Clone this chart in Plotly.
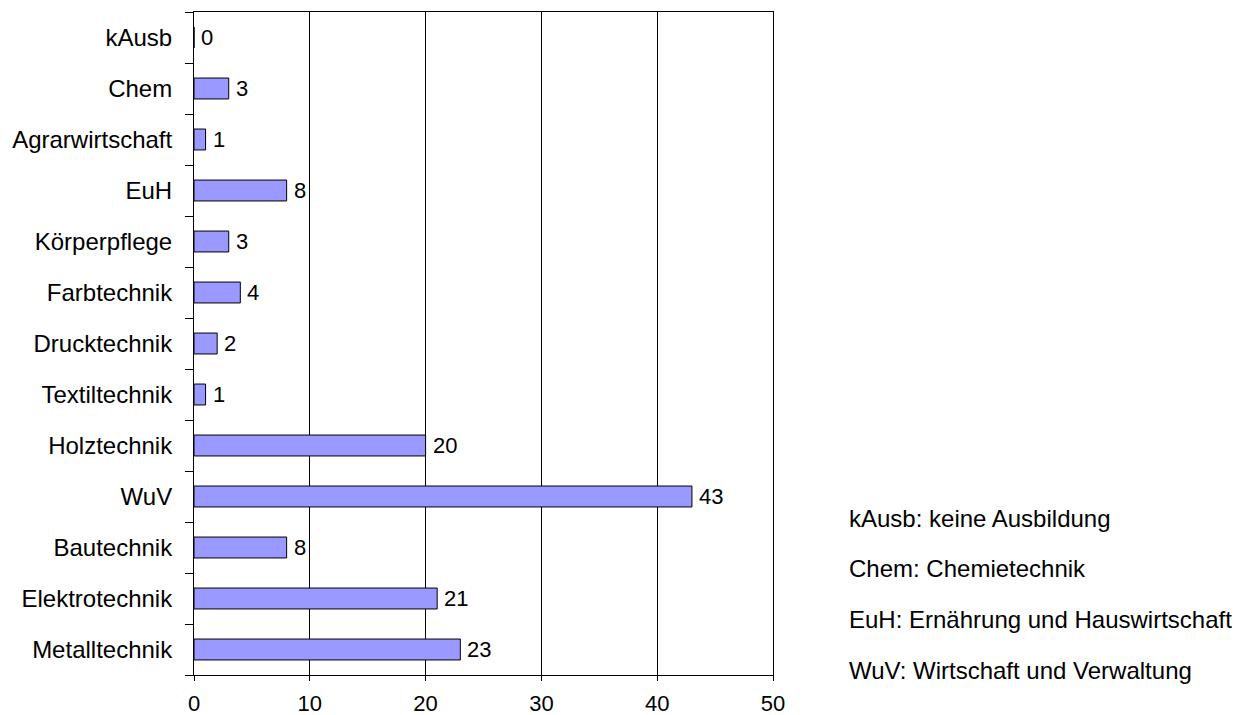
import plotly.graph_objects as go

categories = ["Metalltechnik", "Elektrotechnik", "Bautechnik", "WuV", "Holztechnik",
              "Textiltechnik", "Drucktechnik", "Farbtechnik", "Körperpflege", "EuH",
              "Agrarwirtschaft", "Chem", "kAusb"]
values = [23, 21, 8, 43, 20, 1, 2, 4, 3, 8, 1, 3, 0]
x_ticks = [0, 10, 20, 30, 40, 50]
notes = ["kAusb: keine Ausbildung", "Chem: Chemietechnik",
         "EuH: Ernährung und Hauswirtschaft", "WuV: Wirtschaft und Verwaltung"]

FONT = "Liberation Sans, Arial, sans-serif"
FS_TEXT = 24
FS_NUM = 22

fig = go.Figure(go.Bar(
    x=values, y=categories, orientation="h",
    marker=dict(color="#9999FF", line=dict(color="black", width=1)),
    width=0.41, hoverinfo="x+y",
))

for v, c in zip(values, categories):
    fig.add_annotation(x=v, y=c, xref="x", yref="y", text=str(v), showarrow=False,
                       xanchor="left", yanchor="middle", xshift=5,
                       font=dict(family=FONT, size=FS_NUM, color="black"))

fig.update_layout(
    width=1245, height=715,
    margin=dict(l=194, r=472, t=12, b=40, autoexpand=False),
    paper_bgcolor="white", plot_bgcolor="white",
    font=dict(family=FONT, size=FS_TEXT, color="black"),
    showlegend=False,
    xaxis=dict(range=[0, 50], tickvals=x_ticks, showgrid=True, gridcolor="black",
               gridwidth=1, showline=True, linecolor="black", linewidth=1, mirror=True,
               ticks="outside", ticklen=5, tickcolor="black", zeroline=False,
               tickfont=dict(size=FS_NUM), ticklabelstandoff=4, automargin=False),
    yaxis=dict(categoryorder="array", categoryarray=categories, type="category",
               showline=True, linecolor="black", linewidth=1, mirror=True,
               ticks="outside", ticklen=8, tickcolor="black", tickson="boundaries",
               showgrid=False, tickfont=dict(size=FS_TEXT), ticklabelstandoff=16,
               range=[-0.5, len(categories) - 0.5], automargin=False),
)

for i, n in enumerate(notes):
    fig.add_annotation(text=n, xref="paper", yref="paper", x=0, xshift=847 - 194,
                       xanchor="left", y=1, yshift=-(518 - 12) - 50.7 * i, yanchor="middle",
                       showarrow=False, font=dict(family=FONT, size=FS_TEXT, color="black"))

fig.write_html("out.html")
